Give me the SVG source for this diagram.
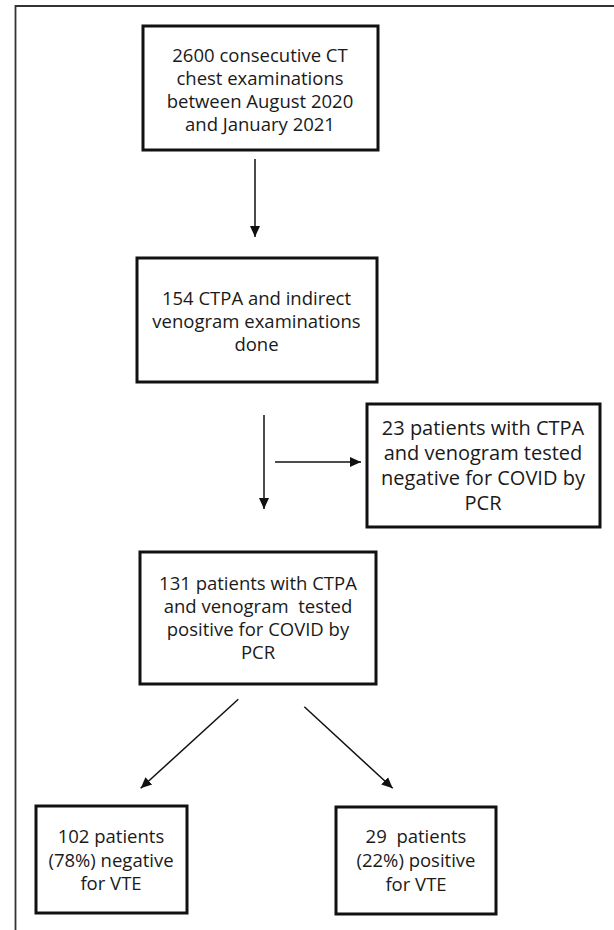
<svg xmlns="http://www.w3.org/2000/svg" width="614" height="930" viewBox="0 0 614 930">
<style>
.box{fill:#fff;stroke:#111;stroke-width:3}
.t{font-family:"Open Sans","Liberation Sans",sans-serif;font-size:18.5px;fill:#1a1a1a;text-anchor:middle}
.t2{font-size:20px}
.c{stroke:#111;stroke-width:1.5;fill:none}
.frame{stroke:#333;stroke-width:1.8;fill:none}
</style>
<defs>
<marker id="ah" markerUnits="userSpaceOnUse" markerWidth="12" markerHeight="12" viewBox="0 0 12 12" refX="11" refY="6" orient="auto">
<path d="M0,1 L11,6 L0,11 Z" fill="#111"/>
</marker>
</defs>
<rect width="614" height="930" fill="#fff"/>
<path class="frame" d="M15.5,930 L15.5,6 L614,6"/>
<g id="n1">
<rect class="box" x="143" y="26" width="235" height="124"/>
<text class="t" x="260" y="61.5">2600 consecutive CT</text>
<text class="t" x="260" y="84.5">chest examinations</text>
<text class="t" x="260" y="107.5">between August 2020</text>
<text class="t" x="260" y="130.5">and January 2021</text>
</g>
<g id="n2">
<rect class="box" x="137" y="258" width="240" height="124"/>
<text class="t" x="256.5" y="304.5">154 CTPA and indirect</text>
<text class="t" x="256.5" y="327.5">venogram examinations</text>
<text class="t" x="256.5" y="350.5">done</text>
</g>
<g id="n3">
<rect class="box" x="367" y="404" width="233" height="123"/>
<text class="t t2" x="483" y="435">23 patients with CTPA</text>
<text class="t t2" x="483" y="460">and venogram tested</text>
<text class="t t2" x="483" y="485">negative for COVID by</text>
<text class="t t2" x="483" y="510">PCR</text>
</g>
<g id="n4">
<rect class="box" x="140" y="552" width="236" height="132"/>
<text class="t" x="258" y="590">131 patients with CTPA</text>
<text class="t" x="258" y="613" xml:space="preserve">and venogram  tested</text>
<text class="t" x="258" y="636">positive for COVID by</text>
<text class="t" x="258" y="659">PCR</text>
</g>
<g id="n5">
<rect class="box" x="36" y="806" width="151" height="107"/>
<text class="t" x="111" y="842.5">102 patients</text>
<text class="t" x="111" y="866.5">(78%) negative</text>
<text class="t" x="111" y="890">for VTE</text>
</g>
<g id="n6">
<rect class="box" x="336" y="807" width="160" height="107"/>
<text class="t" x="416" y="843" xml:space="preserve">29  patients</text>
<text class="t" x="416" y="867">(22%) positive</text>
<text class="t" x="416" y="890.5">for VTE</text>
</g>
<g id="connectors">
<line class="c" x1="255" y1="159" x2="255" y2="237" marker-end="url(#ah)"/>
<line class="c" x1="264" y1="415" x2="264" y2="509" marker-end="url(#ah)"/>
<line class="c" x1="275" y1="462" x2="361" y2="462" marker-end="url(#ah)"/>
<line class="c" x1="238.3" y1="699.3" x2="140.7" y2="788.3" marker-end="url(#ah)"/>
<line class="c" x1="304.3" y1="706.7" x2="392.7" y2="788.3" marker-end="url(#ah)"/>
</g>
</svg>
